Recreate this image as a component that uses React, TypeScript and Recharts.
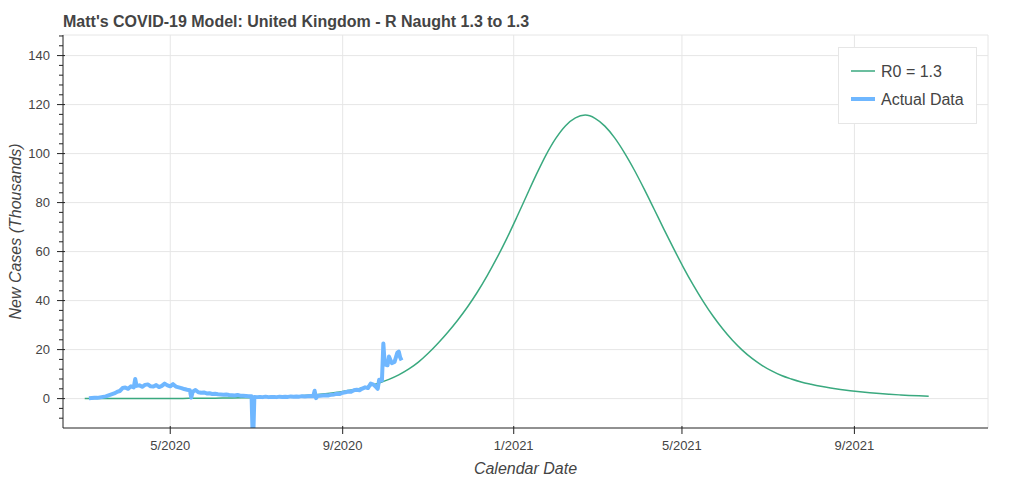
import React from 'react';
import { LineChart, Line, XAxis, YAxis, CartesianGrid, ReferenceLine } from 'recharts';

// days are counted from 1 March 2020 (day 0)
const xTickDays = [61, 184, 306, 426, 549];
const xTickLabels = ['5/2020', '9/2020', '1/2021', '5/2021', '9/2021'];
const yMajorTicks = [0, 20, 40, 60, 80, 100, 120, 140];

// model curve, one value a week starting at day 0 (thousands of new cases)
const MODEL_START = 0;
const MODEL_STEP = 7;
const modelCases = [
  0.01, 0.014, 0.017, 0.02, 0.03, 0.03, 0.04, 0.05, 0.06, 0.08,
  0.09, 0.12, 0.14, 0.18, 0.22, 0.27, 0.33, 0.41, 0.51, 0.63,
  0.77, 0.95, 1.18, 1.45, 1.79, 2.22, 2.74, 3.38, 4.17, 5.15,
  6.36, 7.86, 9.7, 12.0, 14.9, 18.5, 22.6, 27.1, 32.0, 37.4,
  43.4, 50.1, 57.4, 65.3, 73.8, 82.6, 91.3, 99.4, 106.2, 111.4,
  114.6, 115.7, 114.4, 111.2, 106.4, 100.3, 93.3, 85.6, 77.5, 69.3,
  61.3, 53.6, 46.4, 39.8, 33.8, 28.5, 23.8, 19.8, 16.4, 13.6,
  11.3, 9.4, 8.0, 6.8, 5.85, 5.0, 4.3, 3.7, 3.2, 2.75,
  2.37, 2.04, 1.76, 1.52, 1.31, 1.13, 0.97,
];

// reported cases
const actualDays = [
  3, 5, 7, 9, 11, 13, 15, 17, 19, 21, 23, 25, 27, 29, 31, 33, 35, 36, 37, 39,
  41, 43, 45, 47, 49, 51, 53, 55, 57, 59, 61, 63, 65, 67, 69, 71, 73, 75, 76, 77,
  79, 81, 83, 85, 87, 89, 91, 93, 95, 97, 99, 101, 103, 105, 107, 109, 111, 113, 115, 117,
  119, 120, 121, 123, 125, 127, 129, 131, 133, 135, 137, 139, 141, 143, 145, 147, 149, 151, 153, 155,
  157, 159, 161, 163, 164, 165, 166, 168, 170, 172, 174, 176, 178, 180, 182, 184, 186, 188, 190, 192,
  194, 196, 198, 200, 202, 204, 206, 208, 209, 210, 212, 213, 214, 216, 217, 219, 221, 223, 224, 225,
  226,
];
const actualCases = [
  0.1, 0.2, 0.3, 0.3, 0.5, 0.7, 0.9, 1.3, 1.7, 2.1, 2.7, 3.1, 4.3, 4.5, 4.0, 5.0, 4.6, 8.0, 5.2, 5.4,
  4.8, 5.6, 5.8, 5.0, 4.9, 5.5, 4.7, 5.2, 6.1, 5.4, 5.0, 5.9, 4.9, 4.6, 4.3, 3.9, 3.6, 3.4, 0.4, 2.8,
  3.5, 2.6, 2.4, 2.5, 2.1, 2.2, 1.9, 2.0, 1.8, 1.7, 1.6, 1.7, 1.5, 1.4, 1.3, 1.5, 1.2, 1.2, 1.1, 1.0,
  1.0, -20, 0.7, 0.6, 0.7, 0.6, 0.8, 0.6, 0.7, 0.7, 0.6, 0.8, 0.7, 0.8, 0.7, 0.9, 0.8, 0.9, 0.8, 1.0,
  0.9, 1.0, 1.1, 1.0, 3.2, 0.2, 1.1, 1.2, 1.3, 1.4, 1.3, 1.6, 1.7, 2.0, 1.9, 2.4, 2.6, 2.9, 2.8, 3.4,
  3.6, 3.4, 4.1, 4.6, 4.3, 6.1, 5.7, 4.6, 4.0, 7.7, 7.4, 22.5, 14.0, 13.6, 17.2, 14.5, 15.0, 18.8, 19.2, 16.8,
  15.6,
];

const GREEN = '#3aa97f';
const BLUE = '#6fb7ff';
const TEXT = '#444';
const GRID = '#e6e6e6';

const X_DOMAIN: [number, number] = [-15.5, 644.3];
const Y_DOMAIN: [number, number] = [-12, 148.4];
const AXIS_X = 63;
const AXIS_Y = 428;

const modelData = modelCases.map((v, i) => ({ day: MODEL_START + i * MODEL_STEP, cases: v }));
const actualData = actualDays.map((d, i) => ({ day: d, cases: actualCases[i] }));

const yTicks: number[] = [];
for (let v = -8; v <= 148; v += 4) yTicks.push(v);

const YTick = ({ y, payload }: any) => {
  const major = payload.value % 20 === 0;
  return (
    <g>
      <line x1={AXIS_X - (major ? 6 : 4)} x2={AXIS_X + (major ? 2 : 0)} y1={y} y2={y} stroke="#222" />
      {major && (
        <text x={AXIS_X - 13} y={y + 4.6} textAnchor="end" fontSize={13} fill={TEXT}>
          {payload.value}
        </text>
      )}
    </g>
  );
};

const XTick = ({ x, payload }: any) => {
  const label = xTickLabels[xTickDays.indexOf(payload.value)];
  return (
    <g>
      <line x1={x} x2={x} y1={AXIS_Y - 2} y2={AXIS_Y + 6} stroke="#222" />
      <text x={x} y={AXIS_Y + 21.5} textAnchor="middle" fontSize={13} fill={TEXT}>
        {label}
      </text>
    </g>
  );
};

const App = () => {
  return (
    <div style={{ margin: -8, position: 'relative', width: 1024, height: 482, fontFamily: '"Liberation Sans", Arial, sans-serif', background: '#fff' }}>
      <div style={{ position: 'absolute', left: 63, top: 14, fontSize: 16, lineHeight: '16px', fontWeight: 'bold', color: TEXT, whiteSpace: 'nowrap' }}>
        Matt's COVID-19 Model: United Kingdom - R Naught 1.3 to 1.3
      </div>
      <LineChart width={1024} height={482} margin={{ top: 35, right: 36, bottom: 0, left: 0 }}>
        <CartesianGrid stroke={GRID} horizontalValues={yMajorTicks} verticalValues={xTickDays} />
        <ReferenceLine y={Y_DOMAIN[1]} stroke={GRID} />
        <ReferenceLine x={X_DOMAIN[1]} stroke={GRID} />
        <XAxis
          type="number"
          dataKey="day"
          domain={X_DOMAIN}
          allowDataOverflow
          ticks={xTickDays}
          tick={<XTick />}
          tickLine={false}
          axisLine={{ stroke: '#222' }}
          height={54}
          label={{ value: 'Calendar Date', position: 'insideBottom', offset: 8, fill: TEXT, fontSize: 16, fontStyle: 'italic' }}
        />
        <YAxis
          type="number"
          domain={Y_DOMAIN}
          allowDataOverflow
          ticks={yTicks}
          interval={0}
          tick={<YTick />}
          tickLine={false}
          axisLine={{ stroke: '#222' }}
          width={63}
          label={{ value: 'New Cases (Thousands)', angle: -90, position: 'insideLeft', offset: 15, fill: TEXT, fontSize: 16, fontStyle: 'italic', style: { textAnchor: 'middle' } }}
        />
        <Line
          data={modelData}
          dataKey="cases"
          type="monotone"
          stroke={GREEN}
          strokeWidth={1.5}
          dot={false}
          isAnimationActive={false}
        />
        <Line
          data={actualData}
          dataKey="cases"
          type="linear"
          stroke={BLUE}
          strokeWidth={4}
          strokeLinejoin="round"
          dot={false}
          isAnimationActive={false}
        />
      </LineChart>
      <svg width={140} height={78} style={{ position: 'absolute', left: 838, top: 47 }}>
        <rect x={0.5} y={0.5} width={138} height={76} fill="#fff" stroke={GRID} />
        <line x1={13} x2={37} y1={24} y2={24} stroke={GREEN} strokeWidth={1.5} />
        <text x={43} y={29.5} fontSize={16} fill={TEXT}>R0 = 1.3</text>
        <line x1={13} x2={37} y1={52} y2={52} stroke={BLUE} strokeWidth={4} />
        <text x={43} y={57.5} fontSize={16} fill={TEXT}>Actual Data</text>
      </svg>
    </div>
  );
};

export default App;
